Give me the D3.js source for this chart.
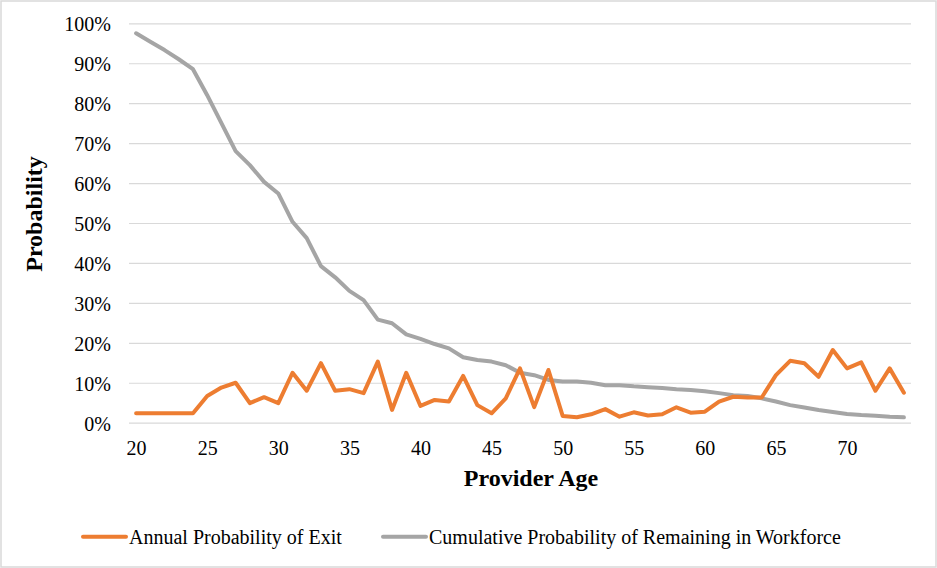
<!DOCTYPE html>
<html>
<head>
<meta charset="utf-8">
<script src="https://cdn.jsdelivr.net/npm/d3@7"></script>
<style>
body{margin:0;background:#fff;}
</style>
</head>
<body>
<svg id="chart" width="937" height="568"></svg>
<script>
var svgWidth=937;
var svgHeight=568;
var plotLeft=129;
var plotRight=911;
var plotTop=23.3;
var plotBottom=422.7;
var fontFamily="'Liberation Serif', 'Times New Roman', Times, 'DejaVu Serif', serif";

// provider age (categories)
var ages=[20,21,22,23,24,25,26,27,28,29,30,31,32,33,34,35,36,37,38,39,40,41,42,43,44,45,46,47,48,49,
    50,51,52,53,54,55,56,57,58,59,60,61,62,63,64,65,66,67,68,69,70,71,72,73,74];
// annual probability of exit (%)
var exitProb=[2.35,2.35,2.35,2.35,2.35,6.7,8.8,10,4.9,6.4,4.9,12.5,8,14.9,8,8.4,7.4,15.3,3.2,12.5,
    4.2,5.7,5.3,11.7,4.4,2.35,6.1,13.6,3.9,13.2,1.7,1.35,2.1,3.4,1.5,2.6,1.8,2.1,3.85,2.5,
    2.75,5.3,6.5,6.3,6.3,11.9,15.5,14.9,11.5,18.2,13.6,15.1,8,13.6,7.5];
// cumulative probability of remaining in workforce (%)
var remainProb=[97.5,95.4,93.3,91,88.5,82,75,68,64.5,60.3,57.4,50.3,46.2,39.2,36.4,33,30.7,25.8,24.9,22.1,
    21,19.7,18.6,16.4,15.7,15.3,14.4,12.5,11.9,10.7,10.3,10.3,10,9.4,9.4,9.1,8.9,8.7,8.4,8.2,
    7.9,7.4,6.9,6.7,6.1,5.3,4.4,3.8,3.2,2.7,2.2,1.9,1.75,1.5,1.35];
var xTickLabels=[20,25,30,35,40,45,50,55,60,65,70];
var yTickValues=[0,10,20,30,40,50,60,70,80,90,100];
var seriesNames=["Annual Probability of Exit","Cumulative Probability of Remaining in Workforce"];
var seriesColors=["#ED7D31","#A5A5A5"];

var svg=d3.select("#chart")
    .attr("font-family",fontFamily);

// outer border
svg.append("rect")
    .attr("x",1).attr("y",1)
    .attr("width",svgWidth-2).attr("height",svgHeight-2)
    .attr("fill","#fff")
    .attr("stroke","#d9d9d9")
    .attr("stroke-width",1.5);

var xScale=d3.scalePoint()
    .domain(ages)
    .range([plotLeft,plotRight])
    .padding(0.5);

var yScale=d3.scaleLinear()
    .domain([0,100])
    .range([plotBottom,plotTop]);

// gridlines + y labels
var yAxis=svg.append("g")
    .attr("transform","translate("+plotLeft+",0)")
    .call(
        d3.axisLeft(yScale)
            .tickValues(yTickValues)
            .tickSize(-(plotRight-plotLeft))
            .tickPadding(18)
            .tickFormat(function(d){return d+"%";})
    );
yAxis.attr("font-family",fontFamily);
yAxis.select(".domain").remove();
yAxis.selectAll("line").attr("stroke","#d9d9d9").attr("stroke-width",1.2);
yAxis.selectAll("text").attr("font-size",20).attr("fill","#000").attr("dy","0.38em");

// x labels
var xAxis=svg.append("g")
    .attr("transform","translate(0,"+plotBottom+")")
    .call(
        d3.axisBottom(xScale)
            .tickValues(xTickLabels)
            .tickSize(0)
            .tickPadding(18)
    );
xAxis.attr("font-family",fontFamily);
xAxis.select(".domain").remove();
xAxis.selectAll("text").attr("font-size",20).attr("fill","#000").attr("dy","0.71em");

// axis titles
svg.append("text")
    .attr("x",531)
    .attr("y",486)
    .attr("text-anchor","middle")
    .attr("font-size",24)
    .attr("font-weight","bold")
    .text("Provider Age");

svg.append("text")
    .attr("transform","translate(42,214) rotate(-90)")
    .attr("text-anchor","middle")
    .attr("font-size",24)
    .attr("font-weight","bold")
    .text("Probability");

// lines
var line=d3.line()
    .x(function(d){return xScale(d.age);})
    .y(function(d){return yScale(d.v);});

[remainProb,exitProb].forEach(function(vals,k){
    var idx=k===0?1:0;
    svg.append("path")
        .datum(ages.map(function(a,i){return {age:a,v:vals[i]};}))
        .attr("fill","none")
        .attr("stroke",seriesColors[idx])
        .attr("stroke-width",4)
        .attr("stroke-linejoin","round")
        .attr("stroke-linecap","round")
        .attr("d",line);
});

// legend
var legendX=[83,383];
var legend=svg.selectAll(".legend")
    .data(seriesNames)
    .enter()
    .append("g")
    .attr("class","legend")
    .attr("transform",function(d,i){return "translate("+legendX[i]+",536.7)";});

legend.append("line")
    .attr("x1",0).attr("x2",43)
    .attr("y1",0).attr("y2",0)
    .attr("stroke",function(d,i){return seriesColors[i];})
    .attr("stroke-width",4)
    .attr("stroke-linecap","round");

legend.append("text")
    .attr("x",46)
    .attr("dy","0.35em")
    .attr("font-size",20)
    .text(function(d){return d;});
</script>
</body>
</html>
